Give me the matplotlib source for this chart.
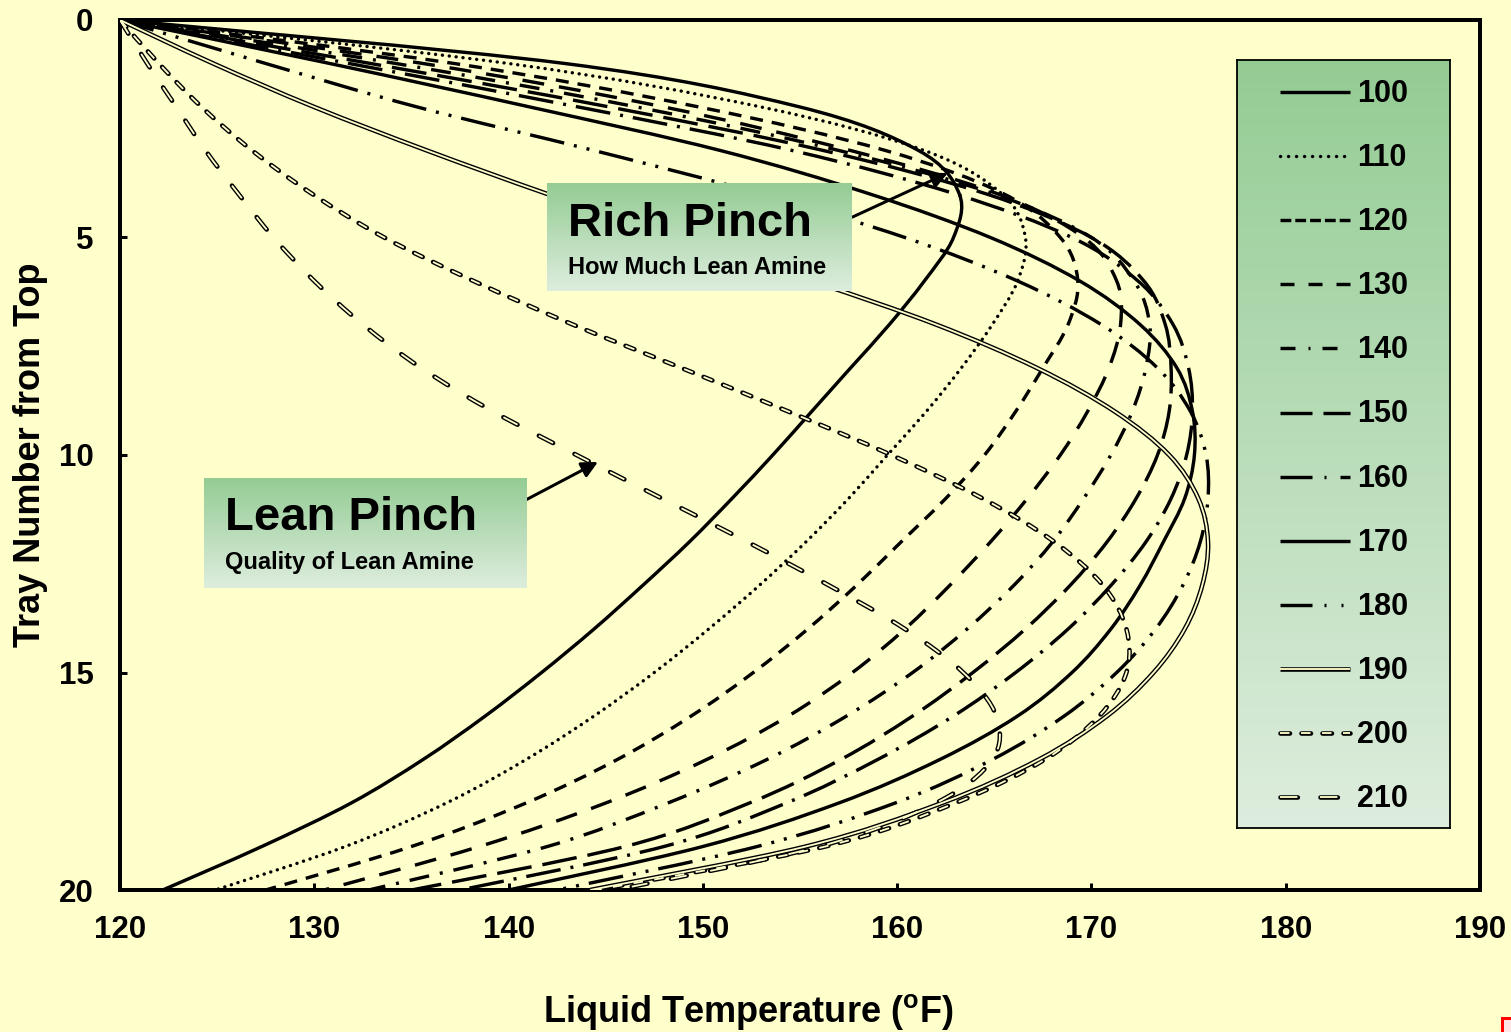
import numpy as np
import matplotlib.pyplot as plt
from matplotlib.path import Path
from matplotlib.patches import PathPatch, Rectangle

plt.rcParams['font.family'] = ['Liberation Sans', 'DejaVu Sans']
plt.rcParams['font.weight'] = 'bold'
plt.rcParams['lines.scale_dashes'] = False
plt.rcParams['mathtext.fontset'] = 'custom'
plt.rcParams['mathtext.bf'] = 'Liberation Sans:bold'
plt.rcParams['mathtext.rm'] = 'Liberation Sans:bold'

# -----------
# liquid temperature (F) on each tray, one list per circulation rate
# -----------
trays = list(range(21))
t100 = [120.0, 142.9, 155.0, 161.1, 163.2, 162.9, 161.4, 159.6, 157.6, 155.6, 153.6,
        151.5, 149.3, 146.9, 144.4, 141.7, 138.8, 135.6, 131.9, 127.3, 122.2]
t110 = [120.0, 140.0, 153.0, 161.4, 165.4, 166.6, 166.2, 164.9, 163.3, 161.5, 159.5,
        157.5, 155.3, 152.9, 150.3, 147.5, 144.4, 140.9, 136.8, 131.6, 124.9]
t120 = [120.0, 137.2, 149.8, 159.4, 165.5, 168.4, 169.3, 168.8, 167.5, 166.1, 164.5,
        162.5, 160.2, 157.9, 155.4, 152.6, 149.4, 145.6, 140.9, 135.0, 127.5]
t130 = [120.0, 135.6, 148.0, 157.6, 165.2, 169.6, 171.3, 171.5, 170.9, 169.8, 168.4,
        166.7, 164.8, 162.7, 160.4, 157.7, 154.4, 150.2, 145.0, 138.5, 130.5]
t140 = [120.0, 134.2, 146.6, 157.0, 165.0, 170.0, 172.2, 173.0, 172.8, 172.1, 171.0,
        169.6, 168.0, 166.0, 163.6, 160.8, 157.4, 153.3, 148.2, 142.0, 132.8]
t150 = [120.0, 132.9, 145.2, 156.2, 164.6, 170.0, 172.7, 173.8, 174.1, 174.0, 173.4,
        172.3, 170.8, 168.9, 166.6, 163.9, 160.8, 157.1, 152.4, 146.0, 135.0]
t160 = [120.0, 131.8, 143.6, 154.6, 163.0, 169.0, 172.4, 174.2, 175.0, 175.2, 174.9,
        174.1, 172.8, 171.0, 168.8, 166.1, 162.9, 159.0, 154.3, 148.0, 137.5]
t170 = [120.0, 130.8, 141.1, 150.9, 158.6, 164.8, 169.4, 172.5, 174.4, 175.2, 175.3,
        174.8, 173.7, 172.5, 171.0, 169.0, 166.2, 162.2, 157.0, 150.0, 140.0]
t180 = [120.0, 127.5, 135.3, 144.4, 153.0, 160.4, 166.2, 170.5, 173.4, 175.1, 175.9,
        176.0, 175.6, 174.7, 173.3, 171.3, 168.6, 164.9, 159.9, 152.8, 142.5]
t190 = [120.0, 124.8, 130.0, 135.8, 142.0, 148.6, 155.6, 162.0, 167.2, 171.2, 174.0,
        175.5, 176.0, 175.7, 174.8, 173.2, 170.8, 167.3, 162.3, 155.3, 144.2]
t200 = [120.0, 122.0, 124.2, 126.8, 129.9, 133.6, 138.2, 143.3, 148.9, 154.4, 159.7,
        164.4, 168.1, 170.6, 171.8, 171.8, 170.4, 167.6, 163.0, 156.3, 144.5]
t210 = [120.0, 121.4, 122.9, 124.4, 126.1, 127.9, 130.0, 132.5, 135.5, 139.2, 143.5,
        147.9, 152.3, 156.5, 160.4, 163.4, 165.1, 164.9, 162.0, 156.0, 145.5]

labels = ['100', '110', '120', '130', '140', '150', '160', '170', '180', '190', '200', '210']
series = [t100, t110, t120, t130, t140, t150, t160, t170, t180, t190, t200, t210]

BG = '#FFFFCC'
PT = 0.72  # points per pixel at 100 dpi

# line look per series: width (px), dash pattern on the chart and in the legend (px)
styles = {
    '100': dict(lw=3.4, dash=None, leg=None),
    '110': dict(lw=3.4, dash=(0.1, 6.8), leg=(0.1, 7.9), cap='round'),
    '120': dict(lw=3.4, dash=(13, 9), leg=(10.8, 4)),
    '130': dict(lw=3.4, dash=(22, 15), leg=(14, 14)),
    '140': dict(lw=3.4, dash=(20, 11, 3, 11), leg=(15, 13, 2, 12)),
    '150': dict(lw=3.4, dash=(35, 11), leg=(32, 11)),
    '160': dict(lw=3.4, dash=(35, 10, 3, 10), leg=(32, 12, 2, 14)),
    '170': dict(lw=3.4, dash=None, leg=None),
    '180': dict(lw=3.4, dash=(35, 10, 3, 10, 3, 10), leg=(32, 12, 2, 15, 2, 12)),
    '190': dict(lw=4.6, dash=None, leg=None, double=True),
    '200': dict(lw=4.6, dash=(9.5, 11.5), leg=(9.5, 11.5), double=True, cap='round'),
    '210': dict(lw=4.6, dash=(16, 24), leg=(17.4, 22.6), double=True, cap='round'),
}


def smooth_path(x, y):
    # Excel style smoothed line: bezier segments through the points
    p = np.column_stack([x, y]).astype(float)
    verts = [p[0]]
    codes = [Path.MOVETO]
    n = len(p)
    for i in range(n - 1):
        p0 = p[i - 1] if i > 0 else p[i]
        p1, p2 = p[i], p[i + 1]
        p3 = p[i + 2] if i + 2 < n else p[i + 1]
        verts += [p1 + (p2 - p0) / 6, p2 - (p3 - p1) / 6, p2]
        codes += [Path.CURVE4] * 3
    return Path(verts, codes)


def line_kw(st, inner=False, legend=False):
    dash = st['leg'] if legend else st['dash']
    ls = '-' if dash is None else (0, tuple(d * PT for d in dash))
    if inner:
        return dict(color=BG, lw=st['lw'] * 0.4 * PT, ls=ls, cap='butt')
    return dict(color='black', lw=st['lw'] * PT, ls=ls, cap=st.get('cap', 'butt'))


def draw_curve(axis, x, y, st):
    layers = [False, True] if st.get('double') else [False]
    for inner in layers:
        kw = line_kw(st, inner)
        patch = PathPatch(smooth_path(x, y), fill=False, edgecolor=kw['color'],
                          lw=kw['lw'], linestyle=kw['ls'], capstyle=kw['cap'],
                          joinstyle='round', zorder=3 + inner)
        axis.add_patch(patch)


def draw_sample(axis, x, y, st):
    layers = [False, True] if st.get('double') else [False]
    for inner in layers:
        kw = line_kw(st, inner, legend=True)
        axis.plot(x, y, color=kw['color'], lw=kw['lw'], ls=kw['ls'],
                  dash_capstyle=kw['cap'], solid_capstyle='butt', zorder=3 + inner)


def gradient_box(rect, top=(0.58, 0.80, 0.58), bottom=(0.87, 0.93, 0.87), border=False):
    bx = fig.add_axes(rect, zorder=5)
    g = np.linspace(0, 1, 256)[:, None, None]
    img = np.array(top)[None, None, :] * (1 - g) + np.array(bottom)[None, None, :] * g
    bx.imshow(img, extent=[0, 1, 0, 1], aspect='auto', origin='upper', zorder=0)
    bx.set_xlim(0, 1)
    bx.set_ylim(0, 1)
    bx.set_xticks([])
    bx.set_yticks([])
    for s in bx.spines.values():
        s.set_visible(border)
        s.set_linewidth(1.8 * PT)
    return bx


W, H = 1511, 1032
fig = plt.figure(figsize=(W / 100, H / 100), dpi=100, facecolor=BG)
ax = fig.add_axes([120 / W, 1 - 890 / H, 1360 / W, 870 / H], facecolor=BG)

for lab, temps in zip(labels, series):
    draw_curve(ax, temps, trays, styles[lab])

ax.set_xlim(120, 190)
ax.set_ylim(20, 0)
ax.set_xticks(range(120, 191, 10))
ax.set_yticks(range(0, 21, 5))
for s in ax.spines.values():
    s.set_linewidth(4 * PT)
ax.tick_params(direction='in', length=7 * PT, width=3 * PT, labelsize=22.5)
ax.tick_params(axis='x', pad=18)
ax.tick_params(axis='y', pad=19)

ax.text(0.462, -0.140, r'Liquid Temperature ($^{\mathbf{o}}$F)', transform=ax.transAxes,
        ha='center', va='center', fontsize=26, fontweight='bold')
ax.text(-0.066, 0.5, 'Tray Number from Top', transform=ax.transAxes, rotation=90,
        ha='center', va='center', fontsize=26, fontweight='bold')

# arrows to the pinch points
arrow = dict(arrowstyle='-|>', lw=3 * PT, color='black', mutation_scale=24,
             shrinkA=0, shrinkB=0)
ax.annotate('', xy=(162.6, 3.52), xytext=(157.7, 4.53), arrowprops=arrow, zorder=6)
ax.annotate('', xy=(144.6, 10.16), xytext=(140.9, 11.03), arrowprops=arrow, zorder=6)

# call-out boxes
rich = gradient_box([547 / W, 1 - 291 / H, 305 / W, 108 / H])
rich.text(0.069, 0.62, 'Rich Pinch', fontsize=34, fontweight='bold', va='center')
rich.text(0.069, 0.22, 'How Much Lean Amine', fontsize=17, fontweight='bold', va='center')

lean = gradient_box([204 / W, 1 - 588 / H, 323 / W, 110 / H])
lean.text(0.065, 0.636, 'Lean Pinch', fontsize=34, fontweight='bold', va='center')
lean.text(0.065, 0.236, 'Quality of Lean Amine', fontsize=17, fontweight='bold', va='center')

# legend
leg = gradient_box([1237 / W, 1 - 828 / H, 213 / W, 768 / H], border=True)
for i, lab in enumerate(labels):
    y = (828 - (92 + 64.1 * i)) / 768
    draw_sample(leg, [0.202, 0.53], [y, y], styles[lab])
    leg.text(0.563, y - 2 / 768, lab, fontsize=22, fontweight='bold', va='center')

fig.patches.append(Rectangle((1502 / W, -0.01), 0.02, 14 / H + 0.01, transform=fig.transFigure,
                             facecolor='#FFE6E6', edgecolor='red', lw=3 * PT))

fig.savefig('out.png', dpi=100, facecolor=BG)
